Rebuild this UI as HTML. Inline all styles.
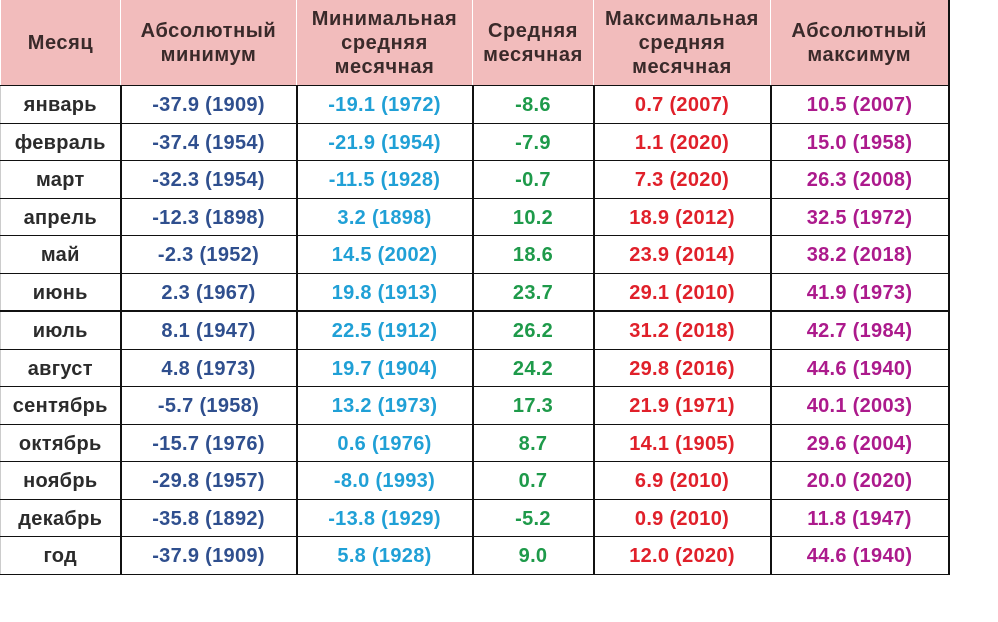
<!DOCTYPE html>
<html><head><meta charset="utf-8"><style>
body{margin:0;width:998px;height:622px;background:#fff;overflow:hidden;font-family:"Liberation Sans",Arial,sans-serif;}
table{position:absolute;left:0;top:0;border-collapse:collapse;table-layout:fixed;width:948px;}
td,th{padding:0;text-align:center;font-weight:bold;font-size:20px;letter-spacing:0.3px;border:1px solid #111;}
td{height:34.5px;border-left:2px solid #111;border-right:2px solid #111;padding-top:2px;line-height:22px;}
tr td:first-child{border-left:1px solid #ccc;}
th{height:85px;background:#f2bcbc;color:#3a2a2a;font-size:20px;letter-spacing:0.6px;line-height:24px;border:1px solid #fff;border-bottom:1px solid #111;border-top:none}
th:last-child{border-right:2px solid #111}
td:first-child{color:#2b2b2b}
.c1{color:#2f4f8e}.c2{color:#20a0d6}.c3{color:#1e9a4a}.c4{color:#e0202a}.c5{color:#ac1a8c}
tr.thick td{border-top:2px solid #111}
</style></head><body>
<table>
<colgroup><col style="width:120px"><col style="width:176px"><col style="width:176px"><col style="width:121px"><col style="width:177px"><col style="width:178px"></colgroup>
<tr><th>Месяц</th><th>Абсолютный<br>минимум</th><th>Минимальная<br>средняя<br>месячная</th><th>Средняя<br>месячная</th><th>Максимальная<br>средняя<br>месячная</th><th>Абсолютный<br>максимум</th></tr>
<tr><td>январь</td><td class="c1">-37.9 (1909)</td><td class="c2">-19.1 (1972)</td><td class="c3">-8.6</td><td class="c4">0.7 (2007)</td><td class="c5">10.5 (2007)</td></tr>
<tr><td>февраль</td><td class="c1">-37.4 (1954)</td><td class="c2">-21.9 (1954)</td><td class="c3">-7.9</td><td class="c4">1.1 (2020)</td><td class="c5">15.0 (1958)</td></tr>
<tr><td>март</td><td class="c1">-32.3 (1954)</td><td class="c2">-11.5 (1928)</td><td class="c3">-0.7</td><td class="c4">7.3 (2020)</td><td class="c5">26.3 (2008)</td></tr>
<tr><td>апрель</td><td class="c1">-12.3 (1898)</td><td class="c2">3.2 (1898)</td><td class="c3">10.2</td><td class="c4">18.9 (2012)</td><td class="c5">32.5 (1972)</td></tr>
<tr><td>май</td><td class="c1">-2.3 (1952)</td><td class="c2">14.5 (2002)</td><td class="c3">18.6</td><td class="c4">23.9 (2014)</td><td class="c5">38.2 (2018)</td></tr>
<tr><td>июнь</td><td class="c1">2.3 (1967)</td><td class="c2">19.8 (1913)</td><td class="c3">23.7</td><td class="c4">29.1 (2010)</td><td class="c5">41.9 (1973)</td></tr>
<tr class="thick"><td>июль</td><td class="c1">8.1 (1947)</td><td class="c2">22.5 (1912)</td><td class="c3">26.2</td><td class="c4">31.2 (2018)</td><td class="c5">42.7 (1984)</td></tr>
<tr><td>август</td><td class="c1">4.8 (1973)</td><td class="c2">19.7 (1904)</td><td class="c3">24.2</td><td class="c4">29.8 (2016)</td><td class="c5">44.6 (1940)</td></tr>
<tr><td>сентябрь</td><td class="c1">-5.7 (1958)</td><td class="c2">13.2 (1973)</td><td class="c3">17.3</td><td class="c4">21.9 (1971)</td><td class="c5">40.1 (2003)</td></tr>
<tr><td>октябрь</td><td class="c1">-15.7 (1976)</td><td class="c2">0.6 (1976)</td><td class="c3">8.7</td><td class="c4">14.1 (1905)</td><td class="c5">29.6 (2004)</td></tr>
<tr><td>ноябрь</td><td class="c1">-29.8 (1957)</td><td class="c2">-8.0 (1993)</td><td class="c3">0.7</td><td class="c4">6.9 (2010)</td><td class="c5">20.0 (2020)</td></tr>
<tr><td>декабрь</td><td class="c1">-35.8 (1892)</td><td class="c2">-13.8 (1929)</td><td class="c3">-5.2</td><td class="c4">0.9 (2010)</td><td class="c5">11.8 (1947)</td></tr>
<tr><td>год</td><td class="c1">-37.9 (1909)</td><td class="c2">5.8 (1928)</td><td class="c3">9.0</td><td class="c4">12.0 (2020)</td><td class="c5">44.6 (1940)</td></tr>
</table>
</body></html>
